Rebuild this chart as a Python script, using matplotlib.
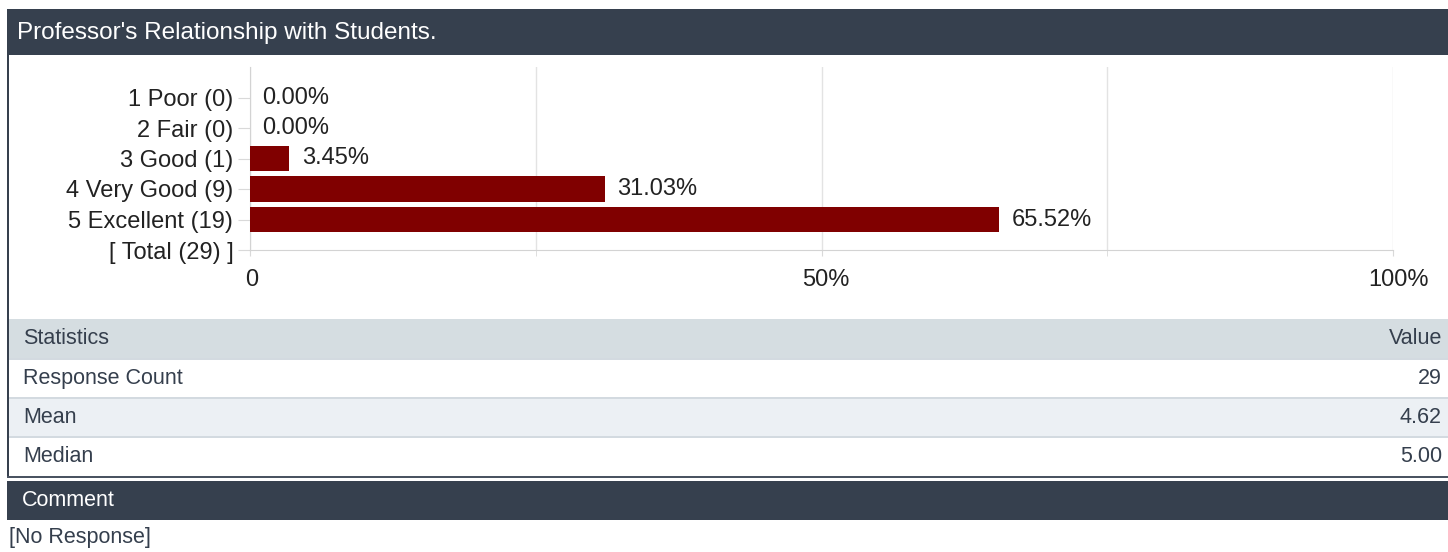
import matplotlib.pyplot as plt
from matplotlib.patches import Rectangle
from matplotlib.transforms import offset_copy

plt.rcParams['font.family'] = ['Liberation Sans', 'DejaVu Sans']

# survey data
title = "Professor's Relationship with Students."
ratings = ["1 Poor", "2 Fair", "3 Good", "4 Very Good", "5 Excellent"]
counts = [0, 0, 1, 9, 19]
percents = [0.00, 0.00, 3.45, 31.03, 65.52]
total = 29
x_ticks = [0, 50, 100]
x_ticklabels = ["0", "50%", "100%"]

stat_names = ["Response Count", "Mean", "Median"]
stat_values = ["29", "4.62", "5.00"]
comment_text = "[No Response]"

W, H = 1448, 552
dark = "#36404e"
txt = "#353f4d"
bar_col = "#800000"

fig = plt.figure(figsize=(W / 100, H / 100), dpi=100)
fig.patch.set_facecolor("white")

# background axes in pixel coords for the panels
bg = fig.add_axes([0, 0, 1, 1])
bg.set_xlim(0, W)
bg.set_ylim(H, 0)
bg.axis("off")

def box(x0, y0, x1, y1, color):
    bg.add_patch(Rectangle((x0, y0), x1 - x0, y1 - y0, facecolor=color,
                           edgecolor="none", zorder=1))

# title bar
box(7, 9, W, 55, dark)
bg.text(17, 33, title, color="white", fontsize=17.5, va="center", ha="left", zorder=3)

# left border of the chart/stats box
box(7, 55, 9, 478, dark)

# stats table
sfs = 15.5
box(9, 319, W, 358, "#d5dde1")
bg.text(23, 339, "Statistics", color=txt, fontsize=sfs, va="center", zorder=3)
bg.text(1442, 339, "Value", color=txt, fontsize=sfs, va="center", ha="right", zorder=3)
row_top = 360
row_h = 39
for i, (name, val) in enumerate(zip(stat_names, stat_values)):
    y0 = row_top + i * row_h
    box(9, y0 - 2, W, y0, "#d3dae0")
    box(9, y0, W, y0 + row_h - 2, "#ecf0f4" if i % 2 == 1 else "white")
    yc = y0 + (row_h - 2) / 2
    bg.text(23, yc, name, color=txt, fontsize=sfs, va="center", zorder=3)
    bg.text(1442, yc, val, color=txt, fontsize=sfs, va="center", ha="right", zorder=3)
box(7, 476, W, 478, "#4a5361")

# comment panel
box(7, 481, W, 520, dark)
bg.text(22, 500, "Comment", color="white", fontsize=sfs, va="center", zorder=3)
bg.text(9, 538, comment_text, color=txt, fontsize=sfs, va="center", zorder=3)

# bar chart
cfs = 17
left, right, top, bottom = 250, 1393, 67, 250
ax = fig.add_axes([left / W, 1 - bottom / H, (right - left) / W, (bottom - top) / H])
ax.set_facecolor("none")
ypos = list(range(len(ratings)))
ax.barh(ypos, percents, height=0.82, color=bar_col, zorder=3)
for y, p in zip(ypos, percents):
    ax.annotate(f"{p:.2f}%", (p, y), xytext=(9, 0), textcoords="offset points",
                va="center", ha="left", fontsize=cfs, color="#222222")

ax.set_xlim(0, 100)
ax.set_ylim(len(ratings), -1)
labels = [f"{r} ({c})" for r, c in zip(ratings, counts)] + [f"[ Total ({total}) ]"]
ax.set_yticks(ypos + [len(ratings)])
ax.set_yticklabels(labels, fontsize=cfs, color="#222222")
ax.set_xticks(x_ticks)
ax.set_xticklabels(x_ticklabels, fontsize=cfs, color="#222222")
ax.set_xticks([25, 75], minor=True)
ax.grid(axis="x", which="both", color="#e3e3e3", linewidth=1, zorder=0)
ax.tick_params(axis="y", length=9, color="#d9d9d9", pad=3)
ax.tick_params(axis="x", which="both", length=4, color="#d9d9d9", pad=10)
# the reference nudges the x labels a little to the right
for lab, dx in zip(ax.get_xticklabels(), [2, 4, 6]):
    lab.set_transform(offset_copy(lab.get_transform(), fig=fig, x=dx, units="dots"))
for s in ["top", "right"]:
    ax.spines[s].set_visible(False)
for s in ["left", "bottom"]:
    ax.spines[s].set_color("#d3d3d3")

fig.savefig("out.png", dpi=100, facecolor="white")
